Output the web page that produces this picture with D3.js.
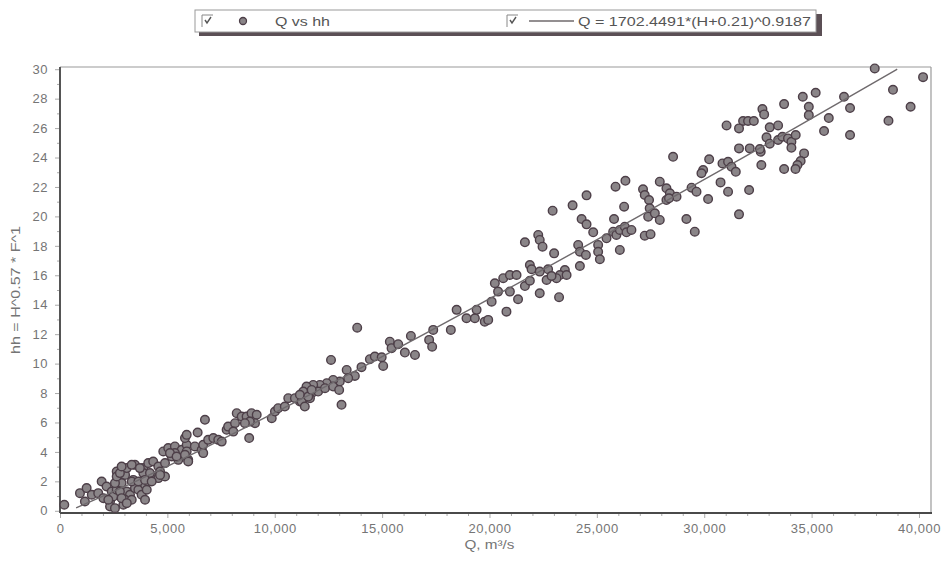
<!DOCTYPE html>
<html>
<head>
<meta charset="utf-8">
<script src="https://cdn.jsdelivr.net/npm/d3@7"></script>
<style>
  body { margin: 0; background: #fff; }
  svg { display: block; font-family: "Liberation Sans", Arial, sans-serif; }
  .tick-label { fill: #757575; font-size: 13px; letter-spacing: 0.5px; }
  .title { fill: #757575; font-size: 13px; }
  .legend-text { fill: #555; font-size: 13px; }
</style>
</head>
<body>
<script>
// Observed points: discharge Q (m³/s) and hh
const obsQ = [
  37940, 40190, 38790, 39610, 38580, 36510, 36790, 36790, 35800, 35580,
  35190, 34590, 34870, 34870, 33720, 32710, 32790, 31810, 32040, 32310,
  31620, 31040, 33050, 33440, 32900, 33050, 33440, 33640, 33900, 34060,
  34260, 34060, 34650, 34490, 34340, 34250, 33720, 32660, 32630, 32590,
  31620, 32120, 30230, 28550, 30850, 31110, 31270, 31470, 29950, 29870,
  30760, 31110, 32090, 30180, 29410, 29640, 31620, 29170, 27930, 28240,
  28400, 28710, 28240, 28360, 29560, 27150, 27230, 27430, 27460, 27390,
  27700, 27930, 26330, 25870, 26270, 25800, 24520, 23870, 22940, 24290,
  24520, 24830, 27230, 27500, 26070, 25450, 25760, 25910, 26070, 26300,
  26380, 26610, 25060, 25060, 25140, 24130, 24210, 24490, 23010, 24210,
  21650, 22270, 22340, 22470, 21880, 21960, 22730, 22340, 23510, 23280,
  20640, 20950, 21260, 23590, 23120, 22660, 22890, 22340, 23240, 21330,
  20250, 20400, 20950, 21650, 21880, 20100, 20790, 18470, 18930, 19320,
  19400, 19780, 19940, 18200, 17380, 17190, 17330, 16340, 15360, 15440,
  15750, 16060, 16530, 13840, 12620, 14430, 14660, 14980, 15050, 14040,
  13350, 13730, 13420, 13030, 12720, 12420, 12100, 11790, 11480, 11330,
  11720, 12020, 12340, 12720, 13000, 11640, 11330, 11170, 13110, 200,
  1160, 930, 1240, 1480, 1780, 1940, 2170, 2410, 2020, 2330,
  2330, 2560, 2480, 2640, 2790, 3030, 3110, 3490, 2640, 2870,
  3110, 3260, 3030, 3410, 3490, 3650, 3800, 3960, 4110, 3880,
  4110, 4340, 4580, 4890, 4420, 4580, 4890, 4660, 4040, 3960,
  3340, 2950, 4810, 5040, 5350, 5670, 5900, 5820, 6280, 6600,
  5900, 6410, 6750, 6670, 6900, 7140, 7370, 7530, 5970, 5510,
  5200, 5350, 5900, 7760, 7830, 8150, 8230, 8460, 8690, 8920,
  9160, 9080, 8840, 8610, 8810, 9860, 10010, 10160, 10470, 10630,
  10940, 11250, 11170, 11560, 11720, 11400,
  2560, 2640, 2790, 2870, 3340, 3340, 2790, 2870, 3110, 3650,
  3880, 3720, 4190, 3960, 4270, 4660, 5120, 5430, 5820, 5970,
  8070, 6670, 2250
];
const obsHH = [
  30.05, 29.46, 28.6, 27.45, 26.5, 28.13, 27.36, 25.53, 26.68, 25.8,
  28.4, 28.13, 27.45, 26.88, 27.63, 27.29, 26.93, 26.48, 26.48, 26.48,
  25.98, 26.18, 26.05, 26.18, 25.37, 24.94, 25.19, 25.41, 25.3, 25.07,
  25.53, 24.66, 24.28, 23.76, 23.49, 23.22, 23.22, 23.49, 24.39, 24.58,
  24.62, 24.62, 23.88, 24.05, 23.6, 23.71, 23.37, 23.03, 23.15, 22.93,
  22.31, 21.68, 21.79, 21.18, 21.95, 21.68, 20.14, 19.82, 22.36, 21.91,
  21.57, 21.34, 21.11, 21.23, 18.96, 21.84, 21.45, 21.11, 20.55, 19.98,
  20.21, 19.76, 22.42, 22.02, 20.66, 19.82, 21.43, 20.75, 20.39, 19.82,
  19.46, 18.92, 18.69, 18.79, 17.72, 18.51, 18.96, 18.74, 19.08, 19.3,
  18.92, 19.08, 18.06, 17.6, 17.09, 18.06, 17.6, 17.38, 17.49, 16.63,
  18.24, 18.74, 18.4, 17.94, 16.7, 16.41, 16.41, 16.25, 16.36, 16.02,
  15.8, 16.02, 16.02, 16.02, 15.8, 15.68, 15.95, 14.78, 14.51, 14.37,
  15.46, 14.89, 14.89, 15.27, 15.63, 14.21, 13.53, 13.65, 13.08, 13.08,
  13.65, 12.85, 12.97, 12.29, 12.29, 11.61, 11.15, 11.88, 11.49, 11.05,
  11.32, 10.75, 10.59, 12.44, 10.25, 10.3, 10.48, 10.43, 9.84, 9.76,
  9.57, 9.16, 9.01, 8.78, 8.89, 8.67, 8.55, 8.55, 8.44, 8.1,
  7.99, 8.1, 8.33, 8.44, 8.21, 7.65, 7.65, 7.42, 7.2, 0.41,
  0.63, 1.2, 1.54, 1.09, 1.2, 1.99, 1.65, 1.31, 0.86, 0.63,
  0.29, 0.18, 0.97, 1.43, 2.1, 2.44, 2.9, 3.12, 2.67, 1.88,
  1.31, 1.09, 0.75, 2.1, 1.54, 1.43, 1.09, 1.77, 2.33, 2.9,
  3.24, 3.35, 3.01, 3.24, 2.33, 2.22, 2.33, 2.67, 1.43, 0.75,
  0.75, 0.41, 4.03, 4.26, 4.37, 4.14, 4.48, 4.94, 4.37, 4.14,
  5.16, 5.32, 6.18, 4.48, 4.82, 4.94, 4.82, 4.7, 3.46, 3.46,
  3.69, 3.92, 4.03, 5.5, 5.72, 5.95, 6.63, 6.4, 6.4, 6.63,
  6.52, 5.95, 6.06, 5.95, 4.94, 6.29, 6.74, 6.97, 7.08, 7.65,
  7.65, 7.42, 7.88, 7.76, 8.21, 7.08,
  1.88, 2.33, 2.56, 3.01, 3.12, 1.99, 1.31, 0.86, 0.52, 1.99,
  2.56, 2.9, 2.56, 2.1, 1.99, 2.44, 3.92, 3.69, 3.8, 3.35,
  5.38, 3.92, 0.75
];

// Fitted curve Q = 1702.4491*(H+0.21)^0.9187, read at regular hh steps
const fitHH = [0.2, 2, 4, 6, 8, 10, 12, 14, 16, 18, 20, 22, 24, 26, 28, 30];
const fitQ = [750, 3527, 6377, 9114, 11778, 14391, 16961, 19498, 22003, 24488, 26948, 29387, 31810, 34214, 36607, 38986];

const xTicks = [0, 5000, 10000, 15000, 20000, 25000, 30000, 35000, 40000];
const yTicks = [0, 2, 4, 6, 8, 10, 12, 14, 16, 18, 20, 22, 24, 26, 28, 30];

const legendLabels = ["Q vs hh", "Q = 1702.4491*(H+0.21)^0.9187"];
const xTitle = "Q, m³/s";
const yTitle = "hh = H^0.57 * F^1";

const width = 944, height = 561;
const plot = { left: 60, right: 931, top: 67, bottom: 513 };

const svg = d3.select("body").append("svg")
  .attr("width", width)
  .attr("height", height);

const x = d3.scaleLinear().domain([0, 40560]).range([plot.left, plot.right]);
const y = d3.scaleLinear().domain([-0.15, 30.15]).range([plot.bottom, plot.top]);

// Frame (top/right light, left/bottom darker)
svg.append("line").attr("x1", plot.left).attr("x2", plot.right).attr("y1", plot.top).attr("y2", plot.top)
  .attr("stroke", "#9a9a9a").attr("stroke-width", 1.2);
svg.append("line").attr("x1", plot.right).attr("x2", plot.right).attr("y1", plot.top).attr("y2", plot.bottom)
  .attr("stroke", "#9a9a9a").attr("stroke-width", 1.2);

// Axes
const fmt = d3.format(",");
const xAxis = svg.append("g").attr("transform", `translate(0,${plot.bottom})`)
  .call(d3.axisBottom(x).tickValues(xTicks).tickFormat(fmt).tickSize(5).tickPadding(6));
const xMinor = svg.append("g").attr("transform", `translate(0,${plot.bottom})`)
  .call(d3.axisBottom(x).tickValues(d3.range(1000, 40001, 1000).filter(v => v % 5000)).tickFormat("").tickSize(3));
const yAxis = svg.append("g").attr("transform", `translate(${plot.left},0)`)
  .call(d3.axisLeft(y).tickValues(yTicks).tickSize(5).tickPadding(7));
const yMinor = svg.append("g").attr("transform", `translate(${plot.left},0)`)
  .call(d3.axisLeft(y).tickValues(d3.range(1, 30, 2)).tickFormat("").tickSize(3));

for (let g of [xAxis, xMinor, yAxis, yMinor]) {
  g.select(".domain").remove();
  g.selectAll(".tick line").attr("stroke", "#aaa");
  g.selectAll(".tick text").attr("class", "tick-label").attr("font-size", 13).attr("font-family", null);
}

svg.append("line").attr("x1", plot.left).attr("x2", plot.right + 1).attr("y1", plot.bottom).attr("y2", plot.bottom)
  .attr("stroke", "#4a4a4a").attr("stroke-width", 2);
svg.append("line").attr("x1", plot.left).attr("x2", plot.left).attr("y1", plot.top).attr("y2", plot.bottom)
  .attr("stroke", "#555").attr("stroke-width", 2);

// Axis titles
svg.append("text").attr("class", "title")
  .attr("x", x(20000)).attr("y", 549).attr("text-anchor", "middle")
  .attr("textLength", 50).attr("lengthAdjust", "spacingAndGlyphs")
  .text(xTitle);
svg.append("text").attr("class", "title")
  .attr("transform", `translate(20,${(plot.top + plot.bottom) / 2}) rotate(-90)`)
  .attr("text-anchor", "middle")
  .attr("textLength", 128).attr("lengthAdjust", "spacingAndGlyphs")
  .text(yTitle);

// Points
const points = obsQ.map((q, i) => ({ q: q, hh: obsHH[i] }));
svg.append("g").selectAll("circle")
  .data(points)
  .enter()
  .append("circle")
  .attr("cx", d => x(d.q))
  .attr("cy", d => y(d.hh))
  .attr("r", 4.3)
  .attr("fill", "#8a8588")
  .attr("stroke", "#4d3f48")
  .attr("stroke-width", 1.4);

// Fitted line
const fit = fitQ.map((q, i) => ({ q: q, hh: fitHH[i] }));
svg.append("path")
  .datum(fit)
  .attr("fill", "none")
  .attr("stroke", "#6f6a6d")
  .attr("stroke-width", 1.4)
  .attr("d", d3.line().x(d => x(d.q)).y(d => y(d.hh)).curve(d3.curveMonotoneX));

// Legend box with shadow
const lg = svg.append("g");
lg.append("rect").attr("x", 199).attr("y", 14).attr("width", 623).attr("height", 22).attr("fill", "#5b4f55");
lg.append("rect").attr("x", 195).attr("y", 10).attr("width", 621).attr("height", 22)
  .attr("fill", "#fff").attr("stroke", "#9a9a9a").attr("stroke-width", 1);

function checkbox(cx) {
  lg.append("path").attr("d", `M${cx},${27} V${15} H${cx + 11}`)
    .attr("fill", "none").attr("stroke", "#888").attr("stroke-width", 1);
  lg.append("path").attr("d", `M${cx + 3},${20} L${cx + 5},${23} L${cx + 9},${17}`)
    .attr("fill", "none").attr("stroke", "#555").attr("stroke-width", 1.4);
}
checkbox(202);
lg.append("circle").attr("cx", 243).attr("cy", 21).attr("r", 3.5)
  .attr("fill", "#8a8588").attr("stroke", "#4d3f48").attr("stroke-width", 1.3);
lg.append("text").attr("class", "legend-text").attr("x", 275).attr("y", 25.5)
  .attr("textLength", 55).attr("lengthAdjust", "spacingAndGlyphs")
  .text(legendLabels[0]);

checkbox(507);
lg.append("line").attr("x1", 529).attr("x2", 574).attr("y1", 21).attr("y2", 21)
  .attr("stroke", "#6f6a6d").attr("stroke-width", 1.3);
lg.append("text").attr("class", "legend-text").attr("x", 578).attr("y", 25.5)
  .attr("textLength", 233).attr("lengthAdjust", "spacingAndGlyphs")
  .text(legendLabels[1]);
</script>
</body>
</html>
